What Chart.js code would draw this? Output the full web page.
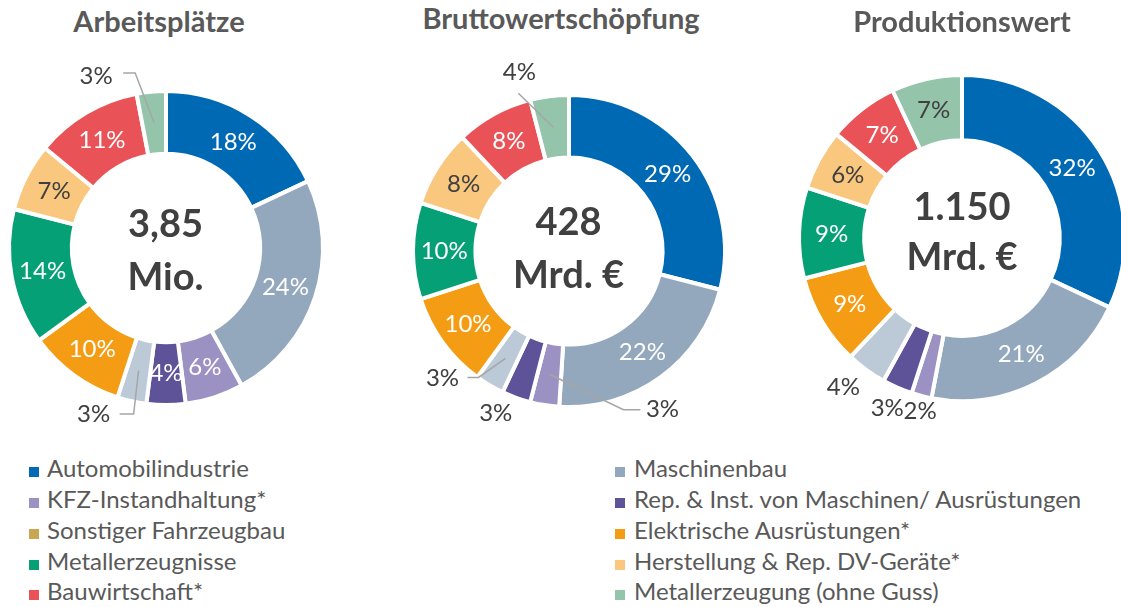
<!DOCTYPE html>
<html lang="de">
<head>
<meta charset="utf-8">
<script src="https://cdn.jsdelivr.net/npm/chart.js@4.4.1/dist/chart.umd.min.js"></script>
<style>
  body { margin: 0; width: 1121px; height: 607px; overflow: hidden; background: #fff; position: relative; font-family: Lato, sans-serif; }
  canvas { position: absolute; }
  .title { position: absolute; font-weight: bold; font-size: 29px; line-height: 1.2; color: #595959; transform: translateX(-50%); white-space: nowrap; }
  .total { position: absolute; font-weight: bold; font-size: 38px; line-height: 1.2; color: #404040; transform: translateX(-50%); white-space: nowrap; }
  .item { position: absolute; font-size: 24px; line-height: 1.2; color: #595959; white-space: nowrap; }
  .box { position: absolute; width: 10px; height: 10px; }
</style>
</head>
<body>
<script>
// Branchen (legend order, also slice order clockwise from 12 o'clock)
const categories = [
  'Automobilindustrie', 'Maschinenbau',
  'KFZ-Instandhaltung*', 'Rep. & Inst. von Maschinen/ Ausrüstungen',
  'Sonstiger Fahrzeugbau', 'Elektrische Ausrüstungen*',
  'Metallerzeugnisse', 'Herstellung & Rep. DV-Geräte*',
  'Bauwirtschaft*', 'Metallerzeugung (ohne Guss)'
];

// shares in %
const arbeitsplaetze = [18, 24, 6, 4, 3, 10, 14, 7, 11, 3];
const bruttowertschoepfung = [29, 22, 3, 3, 3, 10, 10, 8, 8, 4];
const produktionswert = [32, 21, 2, 3, 4, 9, 9, 6, 7, 7];

const chartTitles = ['Arbeitsplätze', 'Bruttowertschöpfung', 'Produktionswert'];
const totals = [['3,85', 'Mio.'], ['428', 'Mrd. €'], ['1.150', 'Mrd. €']];

const sliceColors = ['#0069b4', '#93a8bc', '#9b91c2', '#5e5299', '#bccad7',
                     '#f49c13', '#05a076', '#fac77f', '#e95357', '#94c4aa'];
const legendColors = sliceColors.slice();
legendColors[4] = '#c9a651';

const darkLabels = [7, 9];

const layouts = [
  { cx: 165.5, cy: 248, r: 157, titleX: 159, titleBase: 33, totalBase: [237, 290],
    outside: {
      9: { dx: -58, dy: -47, line: [[-19, -50], [-31, -50]] },
      4: { dx: -45, dy: 44, line: [[-5, 43.5], [-19, 43.5]] }
    } },
  { cx: 568.5, cy: 251, r: 156, titleX: 561, titleBase: 30, totalBase: [235, 288],
    outside: {
      9: { dx: -34, dy: -55, line: [[-35, -34]] },
      4: { dx: -63, dy: 20, line: [[-27, 19], [-38, 19]] },
      3: { dx: -31, dy: 45 },
      2: { dx: 113, dy: 35.5, line: [[74, 35.5], [91, 35.5]] }
    } },
  { cx: 962, cy: 238, r: 163, titleX: 962, titleBase: 33, totalBase: [220, 270],
    outside: {
      4: { dx: -42, dy: 44 },
      3: { dx: -23, dy: 51 },
      2: { dx: -9.5, dy: 47 }
    } }
];

const pctLabels = {
  id: 'pctLabels',
  afterDatasetsDraw(chart, args, opts) {
    const ctx = chart.ctx;
    const meta = chart.getDatasetMeta(0);
    const values = chart.data.datasets[0].data;
    ctx.save();
    ctx.font = '24px Lato';
    ctx.textAlign = 'center';
    ctx.textBaseline = 'middle';
    meta.data.forEach((arc, i) => {
      const p = arc.tooltipPosition(true);
      const text = values[i] + '%';
      const out = opts.outside[i];
      if (out) {
        if (out.line) {
          ctx.strokeStyle = '#a6a6a6';
          ctx.lineWidth = 1.5;
          ctx.beginPath();
          ctx.moveTo(p.x, p.y);
          out.line.forEach(([x, y]) => ctx.lineTo(p.x + x, p.y + y));
          ctx.stroke();
        }
        ctx.fillStyle = '#404040';
        ctx.fillText(text, p.x + out.dx, p.y + out.dy);
      } else {
        ctx.fillStyle = darkLabels.includes(i) ? '#404040' : '#ffffff';
        ctx.fillText(text, p.x, p.y);
      }
    });
    ctx.restore();
  }
};

function addDiv(cls, text, left, top) {
  const d = document.createElement('div');
  d.className = cls;
  d.textContent = text;
  d.style.left = left + 'px';
  d.style.top = top + 'px';
  document.body.appendChild(d);
  return d;
}

function makeChart(values, i) {
  const L = layouts[i];
  const size = 400;
  const canvas = document.createElement('canvas');
  canvas.width = size;
  canvas.height = size;
  canvas.style.left = (L.cx - size / 2) + 'px';
  canvas.style.top = (L.cy - size / 2) + 'px';
  document.body.appendChild(canvas);

  new Chart(canvas.getContext('2d'), {
    type: 'doughnut',
    data: {
      labels: categories,
      datasets: [{
        data: values,
        backgroundColor: sliceColors,
        borderColor: '#ffffff',
        borderWidth: 4
      }]
    },
    options: {
      responsive: false,
      animation: false,
      radius: L.r,
      cutout: '60%',
      plugins: {
        legend: { display: false },
        tooltip: { enabled: false },
        pctLabels: { outside: L.outside }
      }
    },
    plugins: [pctLabels]
  });

  addDiv('title', chartTitles[i], L.titleX, L.titleBase - 28.6);
  addDiv('total', totals[i][0], L.cx, L.totalBase[0] - 37.5);
  addDiv('total', totals[i][1], L.cx, L.totalBase[1] - 37.5);
}

makeChart(arbeitsplaetze, 0);
makeChart(bruttowertschoepfung, 1);
makeChart(produktionswert, 2);

// legend, two columns filled row by row
const rowBase = [478, 509, 540, 571, 601];
categories.forEach((name, i) => {
  const col = i % 2, row = Math.floor(i / 2);
  const boxX = col === 0 ? 29 : 615;
  const textX = col === 0 ? 47 : 634;
  const b = document.createElement('div');
  b.className = 'box';
  b.style.left = boxX + 'px';
  b.style.top = (rowBase[row] - 11) + 'px';
  b.style.background = legendColors[i];
  document.body.appendChild(b);
  addDiv('item', name, textX, rowBase[row] - 23.7);
});
</script>
</body>
</html>
